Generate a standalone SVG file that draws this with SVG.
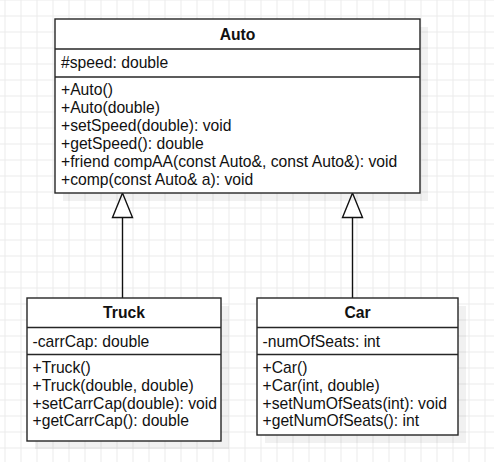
<svg xmlns="http://www.w3.org/2000/svg" width="494" height="462" viewBox="0 0 494 462">
  <defs>
    <pattern id="grid" x="4.5" y="-0.5" width="16" height="16" patternUnits="userSpaceOnUse">
      <path d="M0 0.5 H16 M0.5 0 V16" fill="none" stroke="#ebebeb" stroke-width="1"/>
    </pattern>
  </defs>
  <style>
    .box { fill: #ffffff; stroke: #262626; stroke-width: 1.4; }
    .shadow { fill: #000000; fill-opacity: 0.055; stroke: none; }
    .sep { stroke: #262626; stroke-width: 1.4; fill: none; }
    .t { font-family: "Liberation Sans", Arial, sans-serif; font-size: 15.7px; fill: #111111; }
    .title { font-family: "Liberation Sans", Arial, sans-serif; font-size: 15.7px; font-weight: bold; fill: #111111; text-anchor: middle; }
    .edge { stroke: #111111; stroke-width: 1.4; fill: none; }
    .head { fill: #ffffff; stroke: #111111; stroke-width: 1.4; }
  </style>
  <rect x="0" y="0" width="494" height="462" fill="#ffffff"/>
  <rect x="0" y="0" width="494" height="462" fill="url(#grid)"/>

  <g id="connectors">
    <line class="edge" x1="122.5" y1="217.5" x2="122.5" y2="298"/>
    <polygon class="head" points="122.5,193 112.5,217.5 132.5,217.5"/>
    <line class="edge" x1="352.5" y1="217.5" x2="352.5" y2="298"/>
    <polygon class="head" points="352.5,193 342.5,217.5 362.5,217.5"/>
  </g>

  <g id="Auto">
    <rect class="shadow" x="63" y="27" width="365" height="174"/>
    <rect class="box" x="55" y="19" width="365" height="174"/>
    <line class="sep" x1="55" y1="49" x2="420" y2="49"/>
    <line class="sep" x1="55" y1="77" x2="420" y2="77"/>
    <text class="title" x="237.5" y="39.5">Auto</text>
    <text class="t" x="61" y="67.5">#speed: double</text>
    <text class="t" x="61" y="95">+Auto()</text>
    <text class="t" x="61" y="113">+Auto(double)</text>
    <text class="t" x="61" y="131">+setSpeed(double): void</text>
    <text class="t" x="61" y="149">+getSpeed(): double</text>
    <text class="t" x="61" y="167">+friend compAA(const Auto&amp;, const Auto&amp;): void</text>
    <text class="t" x="61" y="185">+comp(const Auto&amp; a): void</text>
  </g>

  <g id="Truck">
    <rect class="shadow" x="35" y="306" width="194" height="143"/>
    <rect class="box" x="27" y="298" width="194" height="143"/>
    <line class="sep" x1="27" y1="327.5" x2="221" y2="327.5"/>
    <line class="sep" x1="27" y1="354.5" x2="221" y2="354.5"/>
    <text class="title" x="124" y="318">Truck</text>
    <text class="t" x="32.5" y="346.5">-carrCap: double</text>
    <text class="t" x="32.5" y="373">+Truck()</text>
    <text class="t" x="32.5" y="391">+Truck(double, double)</text>
    <text class="t" x="32.5" y="408.5">+setCarrCap(double): void</text>
    <text class="t" x="32.5" y="426">+getCarrCap(): double</text>
  </g>

  <g id="Car">
    <rect class="shadow" x="265" y="306" width="201" height="137"/>
    <rect class="box" x="257" y="298" width="201" height="137"/>
    <line class="sep" x1="257" y1="327.5" x2="458" y2="327.5"/>
    <line class="sep" x1="257" y1="354.5" x2="458" y2="354.5"/>
    <text class="title" x="357.5" y="318">Car</text>
    <text class="t" x="262.5" y="346.5">-numOfSeats: int</text>
    <text class="t" x="262.5" y="373">+Car()</text>
    <text class="t" x="262.5" y="391">+Car(int, double)</text>
    <text class="t" x="262.5" y="408.5">+setNumOfSeats(int): void</text>
    <text class="t" x="262.5" y="426">+getNumOfSeats(): int</text>
  </g>
</svg>
